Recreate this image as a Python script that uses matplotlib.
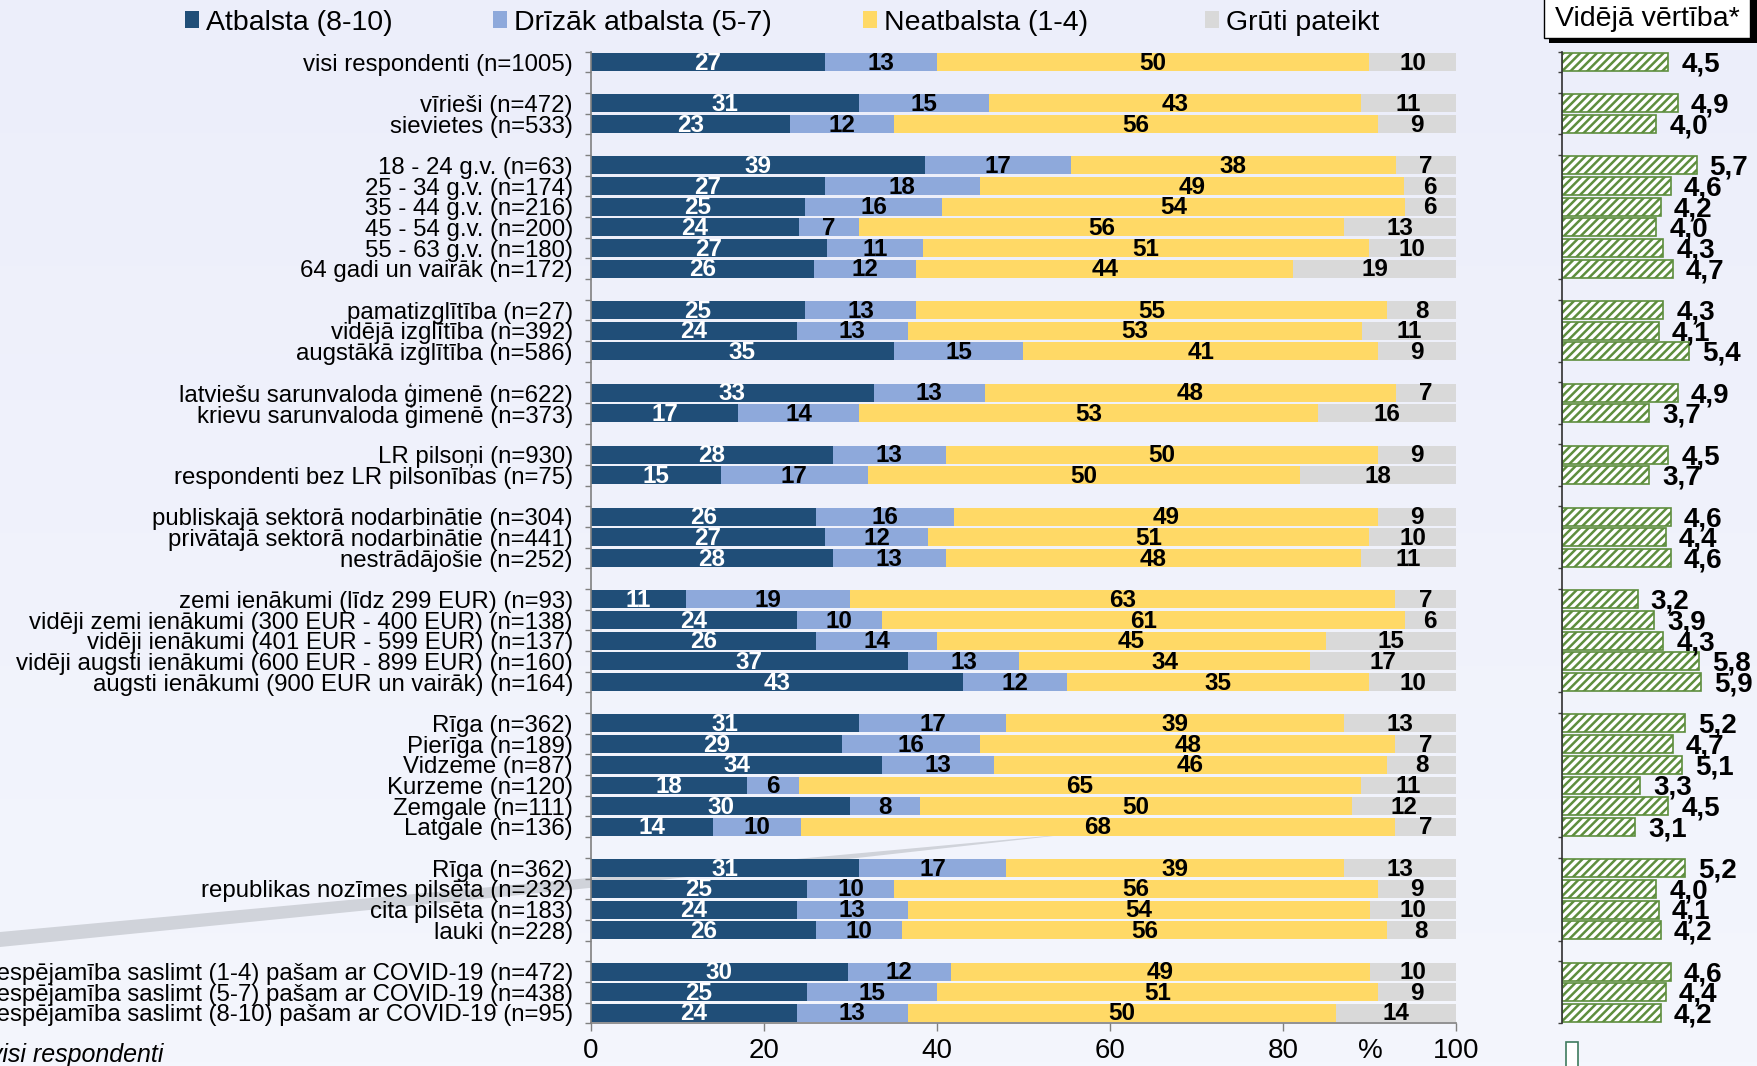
import matplotlib

matplotlib.use("Agg")

import matplotlib.pyplot as plt
import matplotlib.patheffects as pe
import numpy as np
from matplotlib.patches import Patch, Polygon, Rectangle

plt.rcParams["font.family"] = ["Liberation Sans", "DejaVu Sans"]
plt.rcParams["hatch.linewidth"] = 1.8

W, H = 1758, 1066

# ---- data -------------------------------------------------------------
labels = [
    "visi respondenti (n=1005)",
    "vīrieši (n=472)",
    "sievietes (n=533)",
    "18 - 24 g.v. (n=63)",
    "25 - 34 g.v. (n=174)",
    "35 - 44 g.v. (n=216)",
    "45 - 54 g.v. (n=200)",
    "55 - 63 g.v. (n=180)",
    "64 gadi un vairāk (n=172)",
    "pamatizglītība (n=27)",
    "vidējā izglītība (n=392)",
    "augstākā izglītība (n=586)",
    "latviešu sarunvaloda ģimenē (n=622)",
    "krievu sarunvaloda ģimenē (n=373)",
    "LR pilsoņi (n=930)",
    "respondenti bez LR pilsonības (n=75)",
    "publiskajā sektorā nodarbinātie (n=304)",
    "privātajā sektorā nodarbinātie (n=441)",
    "nestrādājošie (n=252)",
    "zemi ienākumi (līdz 299 EUR) (n=93)",
    "vidēji zemi ienākumi (300 EUR - 400 EUR) (n=138)",
    "vidēji ienākumi (401 EUR - 599 EUR) (n=137)",
    "vidēji augsti ienākumi (600 EUR - 899 EUR) (n=160)",
    "augsti ienākumi (900 EUR un vairāk) (n=164)",
    "Rīga (n=362)",
    "Pierīga (n=189)",
    "Vidzeme (n=87)",
    "Kurzeme (n=120)",
    "Zemgale (n=111)",
    "Latgale (n=136)",
    "Rīga (n=362)",
    "republikas nozīmes pilsēta (n=232)",
    "cita pilsēta (n=183)",
    "lauki (n=228)",
    "Iespējamība saslimt (1-4) pašam ar COVID-19 (n=472)",
    "Iespējamība saslimt (5-7) pašam ar COVID-19 (n=438)",
    "Iespējamība saslimt (8-10) pašam ar COVID-19 (n=95)",
]
group_sizes = [1, 2, 6, 3, 2, 2, 3, 5, 6, 4, 3]

atbalsta = [27, 31, 23, 39, 27, 25, 24, 27, 26, 25, 24, 35, 33, 17, 28, 15, 26, 27, 28,
            11, 24, 26, 37, 43, 31, 29, 34, 18, 30, 14, 31, 25, 24, 26, 30, 25, 24]
drizak = [13, 15, 12, 17, 18, 16, 7, 11, 12, 13, 13, 15, 13, 14, 13, 17, 16, 12, 13,
          19, 10, 14, 13, 12, 17, 16, 13, 6, 8, 10, 17, 10, 13, 10, 12, 15, 13]
neatbalsta = [50, 43, 56, 38, 49, 54, 56, 51, 44, 55, 53, 41, 48, 53, 50, 50, 49, 51, 48,
              63, 61, 45, 34, 35, 39, 48, 46, 65, 50, 68, 39, 56, 54, 56, 49, 51, 50]
gruti = [10, 11, 9, 7, 6, 6, 13, 10, 19, 8, 11, 9, 7, 16, 9, 18, 9, 10, 11,
         7, 6, 15, 17, 10, 13, 7, 8, 11, 12, 7, 13, 9, 10, 8, 10, 9, 14]
videja = [4.5, 4.9, 4.0, 5.7, 4.6, 4.2, 4.0, 4.3, 4.7, 4.3, 4.1, 5.4, 4.9, 3.7, 4.5, 3.7,
          4.6, 4.4, 4.6, 3.2, 3.9, 4.3, 5.8, 5.9, 5.2, 4.7, 5.1, 3.3, 4.5, 3.1, 5.2, 4.0,
          4.1, 4.2, 4.6, 4.4, 4.2]

series_names = ["Atbalsta (8-10)", "Drīzāk atbalsta (5-7)", "Neatbalsta (1-4)", "Grūti pateikt"]
series_colors = ["#204E78", "#8EA9DB", "#FFD966", "#D9D9D9"]
series_text = ["white", "black", "black", "black"]

# ---- row positions (one empty row between groups) ----------------------
ypos = []
gap_rows = []
row = 0
for gi, n in enumerate(group_sizes):
    if gi > 0:
        gap_rows.append(row)
        row += 1
    for _ in range(n):
        ypos.append(row)
        row += 1
n_rows = row
ypos = np.array(ypos)

fig = plt.figure(figsize=(W / 100, H / 100), dpi=100)

# background gradient
bg = fig.add_axes([0, 0, 1, 1], zorder=-3)
grad = np.linspace(0, 1, 256).reshape(-1, 1)
top_c = np.array([0xEC, 0xEE, 0xFA]) / 255
bot_c = np.array([0xF4, 0xF6, 0xFD]) / 255
img = top_c + (bot_c - top_c) * grad[..., None]
bg.imshow(np.repeat(img, 2, axis=1), aspect="auto", extent=[0, 1, 0, 1])
bg.set_axis_off()

# grey decorative swoosh
sw = [(0, 932), (589, 878), (1080, 833), (589, 888), (0, 947)]
fig.add_artist(Polygon([(x / W, 1 - y / H) for x, y in sw], closed=True,
                       transform=fig.transFigure, color="#D0D3DA", zorder=-2, lw=0))

ax_bottom = 1 - 1023.2 / H
ax_height = (1023.2 - 51.7) / H
ax = fig.add_axes([591 / W, ax_bottom, 865 / W, ax_height])
ax.patch.set_alpha(0)

vals = np.array([atbalsta, drizak, neatbalsta, gruti], dtype=float)
shares = vals * 100 / vals.sum(axis=0)
left = np.zeros(len(labels))
handles = []
for k in range(4):
    ax.barh(ypos, shares[k], left=left, height=0.87, color=series_colors[k], zorder=2)
    for y, l, s, v in zip(ypos, left, shares[k], vals[k]):
        ax.text(l + s / 2, y + 0.05, f"{int(v)}", ha="center", va="center",
                fontsize=17.5, fontweight="bold", color=series_text[k], zorder=3)
    left += shares[k]
    handles.append(Patch(facecolor=series_colors[k], edgecolor="none"))

ax.set_xlim(0, 100)
ax.set_ylim(n_rows - 0.5, -0.5)
ax.set_yticks(ypos)
ax.set_yticklabels(labels, fontsize=17.3)
ax.tick_params(axis="y", which="major", length=0, pad=13)
ax.set_yticks(np.arange(-0.5, n_rows, 1.0), minor=True)
ax.tick_params(axis="y", which="minor", length=4, width=1, color="#808080", direction="out")
ax.set_xticks([0, 20, 40, 60, 80, 100])
ax.tick_params(axis="x", length=6, width=1, color="#808080", labelsize=20, pad=5)
for s in ["top", "right"]:
    ax.spines[s].set_visible(False)
for s in ["left", "bottom"]:
    ax.spines[s].set_color("#808080")
    ax.spines[s].set_linewidth(1.2)

fig.text(1370 / W, 1 - 1051 / H, "%", ha="center", va="center", fontsize=20)

# right panel with mean values
ax2 = fig.add_axes([1562 / W, ax_bottom, (W - 1562) / W, ax_height])
ax2.patch.set_alpha(0)
ax2.barh(ypos, videja, height=0.87, facecolor="white", edgecolor="#5E8E3E",
         hatch="////", linewidth=1.2, zorder=2)
for y, v in zip(ypos, videja):
    ax2.text(v + 0.55, y + 0.12, f"{v:.1f}".replace(".", ","), ha="left", va="center",
             fontsize=20, fontweight="bold", zorder=3)
ax2.set_xlim(0, 196 / 23.6)
ax2.set_ylim(n_rows - 0.5, -0.5)
ax2.set_xticks([])
edge_ticks = [-0.5, n_rows - 0.5] + [g - 0.5 for g in gap_rows] + [g + 0.5 for g in gap_rows]
ax2.set_yticks(edge_ticks)
ax2.set_yticklabels([])
ax2.tick_params(axis="y", length=3, width=1, color="#404040", direction="out")
for s in ["top", "right", "bottom"]:
    ax2.spines[s].set_visible(False)
ax2.spines["left"].set_color("#303030")
ax2.spines["left"].set_linewidth(1.2)

# legend: one entry per series, placed like the original
legend_x = [185, 493, 863, 1205]
for h, name, lx in zip(handles, series_names, legend_x):
    fig.legend([h], [name], loc="center left", bbox_to_anchor=(lx / W, 1 - 22.5 / H),
               frameon=False, fontsize=20.5, handlelength=0.5, handleheight=0.5,
               handletextpad=0.25, borderpad=0, borderaxespad=0)

# "Vidējā vērtība*" box with shadow
fig.add_artist(Rectangle((1549 / W, 1 - 43 / H), 209 / W, 47 / H, transform=fig.transFigure,
                         facecolor="black", edgecolor="none", zorder=5))
fig.add_artist(Rectangle((1544 / W, 1 - 38 / H), 206 / W, 42 / H, transform=fig.transFigure,
                         facecolor="white", edgecolor="black", lw=1, zorder=6))
fig.text(1647 / W, 1 - 19 / H, "Vidējā vērtība*", ha="center", va="center",
         fontsize=20.5, zorder=7)

# footnote (cut at the left edge, as in the original)
fig.text(163 / W, 1 - 1062 / H, "Bāze: visi respondenti", ha="right", va="baseline",
         fontsize=18, style="italic")

# partly visible logo in the corner
fig.add_artist(Rectangle((1566 / W, 1 - 1070 / H), 12 / W, 28 / H, transform=fig.transFigure,
                         facecolor="white", edgecolor="#3E7B5E", lw=1.2, zorder=4))
fig.text(1586 / W, 1 - 1116 / H, "SKDS", ha="left", va="baseline", fontsize=46,
         fontweight="bold", color="white",
         path_effects=[pe.withStroke(linewidth=2, foreground="#3E7B5E")])

fig.savefig("out.png", dpi=100)
